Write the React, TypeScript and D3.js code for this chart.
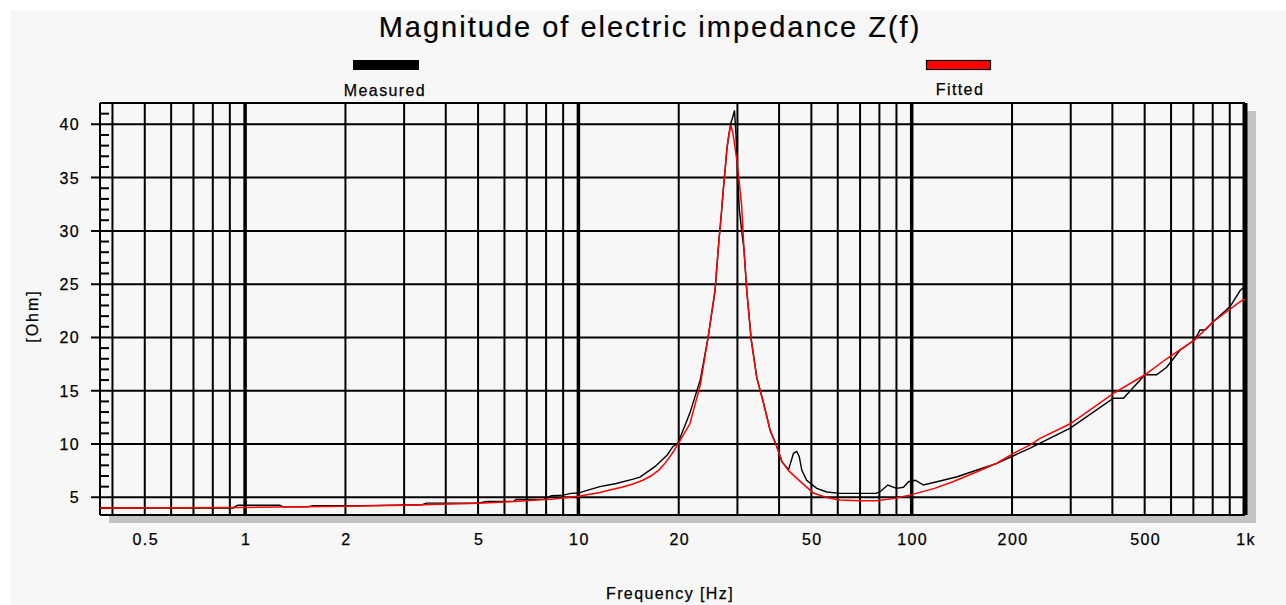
import React from "react";
import * as d3 from "d3";

const title = "Magnitude of electric impedance Z(f)";
const seriesNames = ["Measured", "Fitted"];
const seriesColors = ["#000000", "#ff0000"];

const xTickValues = [0.5, 1, 2, 5, 10, 20, 50, 100, 200, 500, 1000];
const xTickLabels = ["0.5", "1", "2", "5", "10", "20", "50", "100", "200", "500", "1k"];
const yTickValues = [5, 10, 15, 20, 25, 30, 35, 40];

const measuredFreq = [
  0.367, 0.92, 0.95, 1.27, 1.3, 1.55, 1.6, 2.0, 2.05, 3.4, 3.5, 5.0, 5.3, 6.4, 6.5, 7.9, 8.3, 9.0, 9.5, 10,
  10.5, 11.6, 13, 14.6, 15.3, 17.0, 18.5, 19.2, 19.9, 21.6, 23.2, 24.5, 25.7, 26.4, 26.8, 27.2, 27.6, 27.9,
  28.3, 28.7, 29.0, 29.4, 29.7, 29.9, 30.4, 30.9, 31.4, 32.0, 33.0, 34.3, 35.9, 37.6, 39.4, 40.8, 42.7, 44.2,
  45.2, 46.0, 46.8, 48.4, 51.9, 55.6, 61, 78.2, 80.4, 84.8, 90, 94.5, 97.9, 102.5, 108.5, 119, 137, 157,
  180, 202, 226, 242, 299, 403, 432, 501, 543, 582, 638, 708, 733, 759, 804, 902, 967, 1000,
];
const measuredZ = [
  4.0, 4.0, 4.25, 4.25, 4.1, 4.12, 4.22, 4.22, 4.2, 4.3, 4.45, 4.45, 4.6, 4.62, 4.8, 4.82, 5.15, 5.2, 5.37, 5.4,
  5.6, 6.0, 6.3, 6.7, 6.9, 7.9, 9.0, 9.75, 10.1, 12.9, 16.0, 20.0, 24.4, 29.1, 31.3, 33.8, 36.0, 37.7,
  39.1, 40.2, 40.6, 41.3, 39.0, 36.6, 32.0, 30.0, 28.2, 24.4, 19.8, 16.2, 13.9, 11.3, 9.75, 8.34, 7.6, 9.13,
  9.3, 8.8, 7.56, 6.6, 5.84, 5.5, 5.37, 5.37, 5.53, 6.15, 5.84, 5.94, 6.46, 6.6, 6.15, 6.46, 6.93, 7.56,
  8.19, 8.9, 9.6, 10.07, 11.5, 14.3, 14.3, 16.5, 16.5, 17.2, 18.8, 19.8, 20.7, 20.7, 21.5, 22.9, 24.4, 24.8,
];

const fittedFreq = [
  0.367, 1, 2, 3, 5, 6.4, 8.4, 10, 11.6, 12.5, 13.5, 14.6, 15.6, 16.5, 17.5, 18.3, 19.2, 19.9, 21.6, 23.2,
  24.5, 25.7, 26.4, 26.8, 27.2, 27.6, 27.9, 28.3, 28.7, 29.1, 29.9, 30.4, 30.9, 31.4, 32.0, 33.0, 34.3, 35.9,
  37.6, 39.4, 40.8, 42.7, 46.3, 50.7, 56, 61, 70, 78, 89, 100, 117, 133, 157, 180, 202, 226, 242, 299, 403,
  501, 582, 708, 804, 967, 1000,
];
const fittedZ = [
  4.0, 4.05, 4.15, 4.25, 4.45, 4.6, 4.85, 5.1, 5.45, 5.7, 5.95, 6.25, 6.6, 7.0, 7.6, 8.3, 9.2, 10.0, 11.9, 15.5,
  20.0, 24.4, 29.1, 31.3, 33.8, 36.0, 37.7, 39.1, 39.9, 39.1, 36.6, 34.5, 32.3, 28.2, 24.4, 19.8, 16.2, 13.9,
  11.3, 9.75, 8.34, 7.5, 6.5, 5.4, 4.95, 4.75, 4.68, 4.68, 4.9, 5.25, 5.84, 6.46, 7.4, 8.2, 9.13, 9.9, 10.5,
  11.9, 14.75, 16.5, 18.0, 19.8, 21.5, 23.35, 23.6,
];

const W = 1286;
const H = 605;
const X0 = 100;
const X1 = 1245;
const Y0 = 103;
const Y1 = 515;
const FONT = "'Liberation Sans', Arial, sans-serif";

export default function App() {
  const x = d3.scaleLog().domain([0.367, 1000]).range([X0, X1]);
  const y = d3.scaleLinear().domain([3.34, 42]).range([Y1, Y0]);

  const vLines: { v: number; major: boolean }[] = [];
  for (let dec = -1; dec <= 3; dec++) {
    for (let m = 1; m <= 9; m++) {
      const v = m * Math.pow(10, dec);
      if (v > 0.367 && v <= 1000.0001) vLines.push({ v, major: m === 1 });
    }
  }
  const minorY: number[] = [];
  for (let v = 4; v <= 42; v++) if (v % 5 !== 0) minorY.push(v);

  const line = d3
    .line<[number, number]>()
    .x((d) => x(d[0]))
    .y((d) => y(d[1]));
  const measured: [number, number][] = measuredFreq.map((f, i) => [f, measuredZ[i]]);
  const fitted: [number, number][] = fittedFreq.map((f, i) => [f, fittedZ[i]]);

  const textStyle = {
    fontFamily: FONT,
    fontSize: 16,
    letterSpacing: 1.4,
    fill: "#000",
    stroke: "#000",
    strokeWidth: 0.25,
  } as const;

  return (
    <svg width={W} height={H} style={{ position: "absolute", left: 0, top: 0 }}>
      <rect x={0} y={0} width={W} height={H} fill="#ffffff" />
      <rect x={11} y={10} width={W - 11} height={H - 10} fill="#f7f7f7" />
      <text
        x={650}
        y={37}
        textAnchor="middle"
        style={{ fontFamily: FONT, fontSize: 29, letterSpacing: 2, fill: "#000", stroke: "#000", strokeWidth: 0.2 }}
      >
        {title}
      </text>
      {/* legend */}
      <rect x={353} y={60} width={66} height={10} fill={seriesColors[0]} />
      <text x={385} y={96} textAnchor="middle" style={textStyle}>
        {seriesNames[0]}
      </text>
      <rect x={926.5} y={60.5} width={64} height={9} fill={seriesColors[1]} stroke="#000" strokeWidth={1.2} />
      <text x={960} y={95} textAnchor="middle" style={textStyle}>
        {seriesNames[1]}
      </text>

      {/* shadow + plot bg */}
      <rect x={X0 + 9} y={Y0 + 8} width={X1 - X0 + 2} height={Y1 - Y0 + 0} fill="#c3c3c3" />
      <rect x={X0} y={Y0} width={X1 - X0} height={Y1 - Y0} fill="#f7f7f7" />

      {/* horizontal grid */}
      {yTickValues.map((v) => (
        <line key={"h" + v} x1={X0 - 9} x2={X1} y1={y(v)} y2={y(v)} stroke="#000" strokeWidth={2} />
      ))}
      {minorY.map((v) => (
        <line key={"m" + v} x1={X0} x2={X0 + 9} y1={y(v)} y2={y(v)} stroke="#000" strokeWidth={2} />
      ))}
      {/* vertical grid */}
      {vLines.map((d) => (
        <line
          key={"v" + d.v}
          x1={x(d.v)}
          x2={x(d.v)}
          y1={Y0}
          y2={Y1}
          stroke="#000"
          strokeWidth={d.v >= 999 ? 5 : d.major ? 3.5 : 2}
        />
      ))}
      {/* frame */}
      <line x1={X0} x2={X1} y1={Y0} y2={Y0} stroke="#000" strokeWidth={2} />
      <line x1={X0} x2={X1} y1={Y1} y2={Y1} stroke="#000" strokeWidth={2} />
      <line x1={X0} x2={X0} y1={Y0} y2={Y1} stroke="#000" strokeWidth={2} />

      {/* data */}
      <path d={line(measured) || ""} fill="none" stroke={seriesColors[0]} strokeWidth={1.4} />
      <path d={line(fitted) || ""} fill="none" stroke={seriesColors[1]} strokeWidth={1.5} />

      {/* y tick labels */}
      {yTickValues.map((v) => (
        <text key={"yl" + v} x={80} y={y(v) + 6} textAnchor="end" style={textStyle}>
          {String(v)}
        </text>
      ))}
      {/* x tick labels */}
      {xTickValues.map((v, i) => (
        <text key={"xl" + v} x={x(v) + 1} y={545} textAnchor="middle" style={textStyle}>
          {xTickLabels[i]}
        </text>
      ))}
      <text x={670} y={599} textAnchor="middle" style={textStyle}>
        Frequency [Hz]
      </text>
      <text
        x={0}
        y={0}
        transform={`translate(38,316) rotate(-90)`}
        textAnchor="middle"
        style={{ ...textStyle, letterSpacing: 2 }}
      >
        [Ohm]
      </text>
    </svg>
  );
}
